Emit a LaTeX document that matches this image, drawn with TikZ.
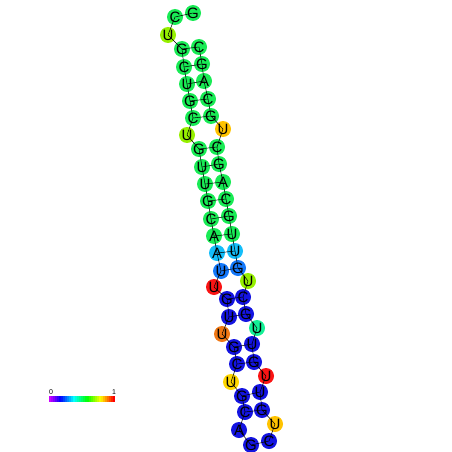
\documentclass[tikz,border=0pt]{standalone}
\usepackage{fontspec}
\setmainfont{Liberation Sans}
\usepackage{xcolor}
\definecolor{ntgreen}{RGB}{25,235,85}
\definecolor{ntlime}{RGB}{150,240,0}
\definecolor{ntcyan}{RGB}{20,190,250}
\definecolor{ntmid}{RGB}{20,120,250}
\definecolor{ntblue}{RGB}{20,20,225}
\definecolor{ntred}{RGB}{250,20,20}
\definecolor{ntorange}{RGB}{240,120,20}
\definecolor{ntteal}{RGB}{20,240,150}
\definecolor{ntyellow}{RGB}{255,215,0}
\definecolor{ntamber}{RGB}{255,195,0}

\begin{document}
\begin{tikzpicture}[
    x=1pt,y=-1pt,
    nt/.style={circle,fill=#1,minimum size=16pt,inner sep=0pt,
      font=\fontsize{15}{15}\selectfont},
    backbone/.style={line width=0.5pt,black},
    pair/.style={line width=0.5pt,black}
  ]
    \useasboundingbox (0,0) rectangle (452,452);
    % left strand
    \node[nt=ntgreen] (n1) at (193,13) {G};
    \node[nt=ntgreen] (n2) at (175,17) {C};
    \node[nt=ntlime] (n3) at (168,35) {U};
    \node[nt=ntgreen] (n4) at (182,49) {G};
    \node[nt=ntgreen] (n5) at (184,67) {C};
    \node[nt=ntgreen] (n6) at (187,84) {U};
    \node[nt=ntgreen] (n7) at (190,101) {G};
    \node[nt=ntgreen] (n8) at (193,118) {C};
    \node[nt=ntlime] (n9) at (187,135) {U};
    \node[nt=ntgreen] (n10) at (199,149) {G};
    \node[nt=ntgreen] (n11) at (202,167) {U};
    \node[nt=ntgreen] (n12) at (205,184) {U};
    \node[nt=ntgreen] (n13) at (208,201) {G};
    \node[nt=ntgreen] (n14) at (211,219) {C};
    \node[nt=ntgreen] (n15) at (214,236) {A};
    \node[nt=ntcyan] (n16) at (217,253) {A};
    \node[nt=ntmid] (n17) at (221,271) {U};
    \node[nt=ntred] (n18) at (214,287) {U};
    \node[nt=ntblue] (n19) at (227,299) {G};
    \node[nt=ntblue] (n20) at (229,317) {U};
    \node[nt=ntorange] (n21) at (222,334) {U};
    \node[nt=ntblue] (n22) at (234,347) {G};
    \node[nt=ntblue] (n23) at (237,364) {C};
    \node[nt=ntyellow] (n24) at (231,382) {U};
    \node[nt=ntblue] (n25) at (242,396) {G};
    \node[nt=ntblue] (n26) at (245,412) {C};
    \node[nt=ntblue] (n27) at (239,430) {A};
    % loop and right strand
    \node[nt=ntblue] (n28) at (251,445) {G};
    \node[nt=ntblue] (n29) at (269,441) {C};
    \node[nt=ntamber] (n30) at (275,424) {U};
    \node[nt=ntblue] (n31) at (262,410) {G};
    \node[nt=ntblue] (n32) at (260,392) {U};
    \node[nt=ntred] (n33) at (266,376) {U};
    \node[nt=ntblue] (n34) at (254,362) {G};
    \node[nt=ntblue] (n35) at (252,344) {U};
    \node[nt=ntteal] (n36) at (257,328) {U};
    \node[nt=ntblue] (n37) at (246,314) {G};
    \node[nt=ntblue] (n38) at (243,297) {C};
    \node[nt=ntlime] (n39) at (248,281) {U};
    \node[nt=ntmid] (n40) at (238,268) {G};
    \node[nt=ntcyan] (n41) at (235,251) {U};
    \node[nt=ntgreen] (n42) at (232,234) {U};
    \node[nt=ntgreen] (n43) at (229,216) {G};
    \node[nt=ntgreen] (n44) at (226,199) {C};
    \node[nt=ntgreen] (n45) at (223,182) {A};
    \node[nt=ntgreen] (n46) at (219,164) {G};
    \node[nt=ntgreen] (n47) at (217,147) {C};
    \node[nt=ntamber] (n48) at (223,129) {U};
    \node[nt=ntgreen] (n49) at (211,116) {G};
    \node[nt=ntgreen] (n50) at (208,99) {C};
    \node[nt=ntgreen] (n51) at (204,81) {A};
    \node[nt=ntgreen] (n52) at (202,64) {G};
    \node[nt=ntgreen] (n53) at (199,47) {C};

    % backbone
    \foreach \i [count=\j from 2] in {1,...,52}
      \draw[backbone] (n\i.center) -- (n\j.center);
    % base pairs
    \foreach \a/\b in {4/53,5/52,6/51,7/50,8/49,10/47,11/46,12/45,13/44,
        14/43,15/42,16/41,17/40,19/38,20/37,22/35,23/34,25/32,26/31}
      \draw[pair] (n\a.center) -- (n\b.center);

    % colour bar
    \foreach \k in {0,...,32}{
      \pgfmathsetmacro{\hue}{0.8*(1-\k/32)}
      \definecolor{barcol}{hsb}{\hue,1,1}
      \fill[barcol] (49+2*\k,396) rectangle (51.2+2*\k,402);
    }
    \node[font=\fontsize{7}{7}\selectfont] (lo) at (51,392) {0};
    \node[font=\fontsize{7}{7}\selectfont] (hi) at (114,392) {1};
  \end{tikzpicture}
\end{document}
